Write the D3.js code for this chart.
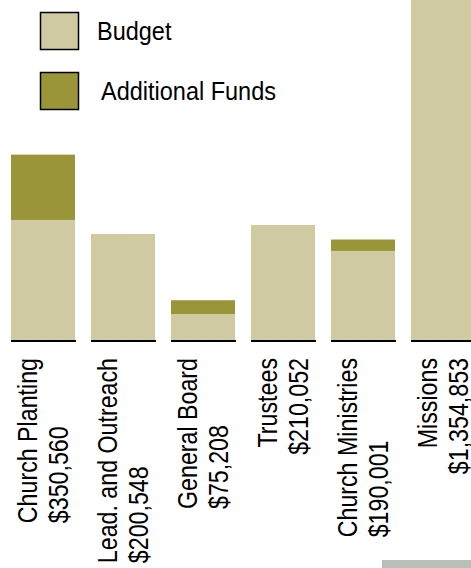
<!DOCTYPE html>
<html>
<head>
<meta charset="utf-8">
<script src="https://cdn.jsdelivr.net/npm/d3@7"></script>
<style>
  body { margin: 0; background: #fff; }
  svg { display: block; }
</style>
</head>
<body>
<div id="chart"></div>
<script>
const categories = ["Church Planting", "Lead. and Outreach", "General Board", "Trustees", "Church Ministries", "Missions"];
const amountLabels = ["$350,560", "$200,548", "$75,208", "$210,052", "$190,001", "$1,354,853"];
const budget = [227000, 200548, 49200, 217500, 168400, 1354853];
const additional = [123560, 0, 26000, 0, 21600, 0];
const seriesNames = ["Budget", "Additional Funds"];
const colors = ["#d0caa3", "#9b9539"];

const width = 471, height = 568;
const baseY = 340;

const svg = d3.select("#chart").append("svg")
  .attr("width", width)
  .attr("height", height);

const x = d3.scaleBand()
  .domain(categories)
  .range([3, 483])
  .paddingInner(0.2)
  .paddingOuter(0.1);

const y = d3.scaleLinear()
  .domain([0, 643000])
  .range([baseY, 0]);

const rows = categories.map((c, i) => ({ cat: c, Budget: budget[i], "Additional Funds": additional[i] }));
const stacked = d3.stack().keys(seriesNames)(rows);

const bars = svg.append("g");
stacked.forEach((layer, li) => {
  bars.selectAll(null)
    .data(layer)
    .enter()
    .append("rect")
    .attr("x", d => x(d.data.cat))
    .attr("width", x.bandwidth())
    .attr("y", d => y(d[1]))
    .attr("height", d => y(d[0]) - y(d[1]))
    .attr("fill", colors[li]);
});

// short black base under each bar
svg.append("g").selectAll("line")
  .data(categories)
  .enter()
  .append("line")
  .attr("x1", d => x(d))
  .attr("x2", d => x(d) + x.bandwidth() + 1)
  .attr("y1", baseY + 1)
  .attr("y2", baseY + 1)
  .attr("stroke", "#000")
  .attr("stroke-width", 2);

// rotated two-line category labels (condensed look: squeeze along the text)
const labelTop = 358;
const labelFont = "'Liberation Sans', Arial, sans-serif";
const squeeze = 0.86;
categories.forEach((c, i) => {
  const cx = x(c) + x.bandwidth() / 2;
  const g = svg.append("g");
  const t1 = g.append("text")
    .attr("transform", `translate(${cx - 6}, ${labelTop}) rotate(-90) scale(${squeeze}, 1)`)
    .attr("text-anchor", "end")
    .style("font-family", labelFont)
    .style("font-size", "27px")
    .style("fill", "#000")
    .text(c);
  const len1 = t1.node().getComputedTextLength() * squeeze;
  const t2 = g.append("text")
    .style("font-family", labelFont)
    .style("font-size", "27px")
    .style("fill", "#000")
    .text(amountLabels[i]);
  const len2 = t2.node().getComputedTextLength() * squeeze;
  if (len2 <= len1) {
    t2.attr("transform", `translate(${cx + 25}, ${labelTop + len1}) rotate(-90) scale(${squeeze}, 1)`)
      .attr("text-anchor", "start");
  } else {
    t2.attr("transform", `translate(${cx + 25}, ${labelTop}) rotate(-90) scale(${squeeze}, 1)`)
      .attr("text-anchor", "end");
  }
});

// legend
const legend = svg.append("g");
const legendRows = [
  { name: seriesNames[0], color: colors[0], y: 12, tx: 97 },
  { name: seriesNames[1], color: colors[1], y: 72, tx: 101 }
];
legendRows.forEach(r => {
  legend.append("rect")
    .attr("x", 40.5)
    .attr("y", r.y + 0.5)
    .attr("width", 38)
    .attr("height", 37)
    .attr("fill", r.color)
    .attr("stroke", "#000")
    .attr("stroke-width", 1.5);
  legend.append("text")
    .attr("transform", `translate(${r.tx}, ${r.y + 28}) scale(0.94, 1)`)
    .style("font-family", labelFont)
    .style("font-size", "25px")
    .style("fill", "#000")
    .text(r.name);
});

// grey strip at the bottom edge
svg.append("rect")
  .attr("x", 382)
  .attr("y", 560)
  .attr("width", 89)
  .attr("height", 8)
  .attr("fill", "#b8beb8");
</script>
</body>
</html>
